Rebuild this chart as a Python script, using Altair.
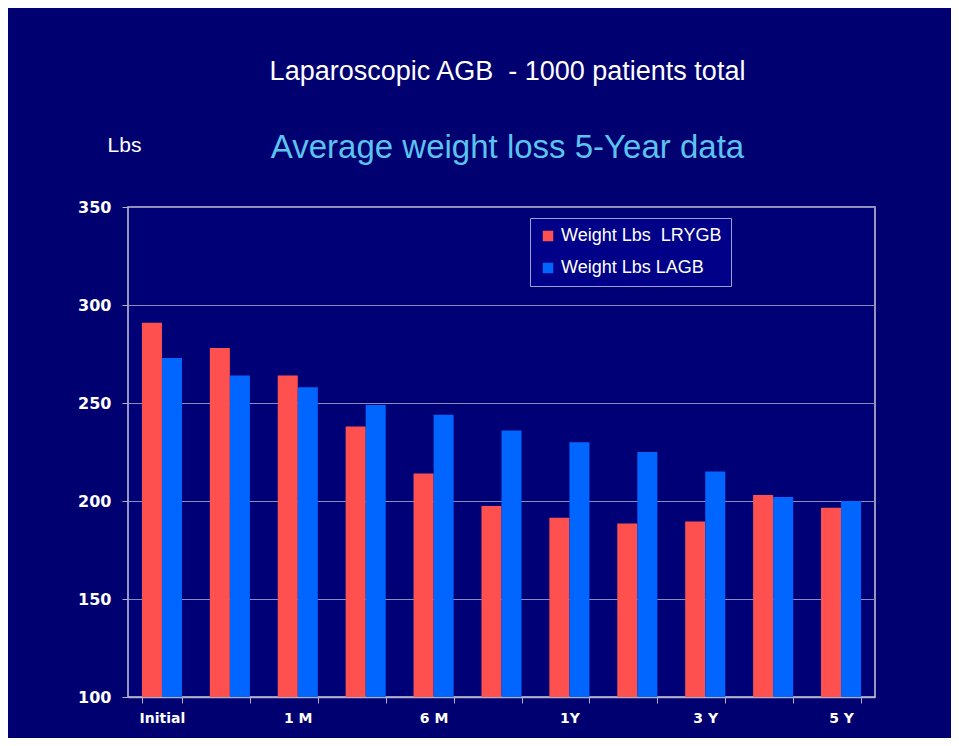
import altair as alt
import pandas as pd

# ---- data ----
categories = ["Initial", "2 W", "1 M", "3 M", "6 M", "9 M", "1Y", "2Y", "3 Y", "4 Y", "5 Y"]
shown_labels = ["Initial", "1 M", "6 M", "1Y", "3 Y", "5 Y"]
series = ["Weight Lbs\u00a0 LRYGB", "Weight Lbs LAGB"]
lrygb = [291, 278, 264, 238, 214, 197.5, 191.5, 188.5, 189.5, 203, 196.5]
lagb = [273, 264, 258, 249, 244, 236, 230, 225, 215, 202, 200]
y_ticks = [100, 150, 200, 250, 300, 350]
colors = ["#FF5050", "#0066FF"]

rows = []
for c, a, b in zip(categories, lrygb, lagb):
    rows.append({"period": c, "series": series[0], "lbs": a})
    rows.append({"period": c, "series": series[1], "lbs": b})
df = pd.DataFrame(rows)

label_list = ",".join("'" + s + "'" for s in shown_labels)
label_expr = f"indexof([{label_list}], datum.value) >= 0 ? datum.value : ''"

bars = alt.Chart(df).mark_bar().encode(
    x=alt.X(
        "period:N",
        sort=categories,
        scale=alt.Scale(paddingInner=0.41, paddingOuter=0.205),
        axis=alt.Axis(
            title=None,
            labelExpr=label_expr,
            labelAngle=0,
            labelFont="DejaVu Sans",
            labelFontWeight="bold",
            labelFontSize=14,
            labelColor="white",
            labelPadding=8,
            tickBand="extent",
            tickColor="#B0B0C8",
            tickSize=6,
            domainColor="#B0B0C8",
            domainWidth=1.5,
            grid=False,
        ),
    ),
    xOffset=alt.XOffset("series:N", sort=series),
    y=alt.Y(
        "lbs:Q",
        scale=alt.Scale(domain=[100, 350], zero=False, nice=False),
        axis=alt.Axis(
            values=y_ticks,
            title="Lbs",
            titleAngle=0,
            titleAlign="center",
            titleBaseline="middle",
            titleX=-4,
            titleY=-62,
            titleFont="Liberation Sans",
            titleFontWeight="normal",
            titleFontSize=21,
            titleColor="white",
            labelFont="DejaVu Sans",
            labelFontWeight="bold",
            labelFontSize=16,
            labelColor="white",
            labelPadding=11,
            tickColor="#B0B0C8",
            tickSize=6,
            domain=False,
            gridColor="#8C8CB8",
            gridWidth=1,
        ),
    ),
    y2=alt.datum(100),
    color=alt.Color(
        "series:N",
        sort=series,
        scale=alt.Scale(domain=series, range=colors),
        legend=alt.Legend(
            title=None,
            orient="none",
            legendX=402,
            legendY=11,
            symbolType="square",
            symbolSize=110,
            symbolStrokeWidth=0,
            labelFont="Liberation Sans",
            labelFontSize=18,
            labelColor="white",
            labelLimit=400,
            labelOffset=4,
            fillColor="#000088",
            strokeColor="#A0A0D0",
            padding=9,
            rowPadding=14,
        ),
    ),
).properties(
    width=747,
    height=490,
    title=alt.TitleParams(
        text="Laparoscopic AGB\u00a0 - 1000 patients total",
        subtitle="Average weight loss 5-Year data",
        color="white",
        font="Liberation Sans",
        fontSize=27,
        fontWeight="normal",
        subtitleColor="#5BC3EE",
        subtitleFont="Liberation Sans",
        subtitleFontSize=33,
        subtitlePadding=46,
        anchor="middle",
        offset=-32,
        dx=6,
    ),
    autosize=alt.AutoSizeParams(type="none"),
    padding={"left": 120, "top": 199, "right": 76, "bottom": 41},
    background="#000070",
).configure_view(
    stroke="#C8C8D8",
    strokeWidth=1.5,
    fill="#000076",
)

chart = bars
chart.save("out.html", embed_options={"renderer": "svg", "actions": False})
